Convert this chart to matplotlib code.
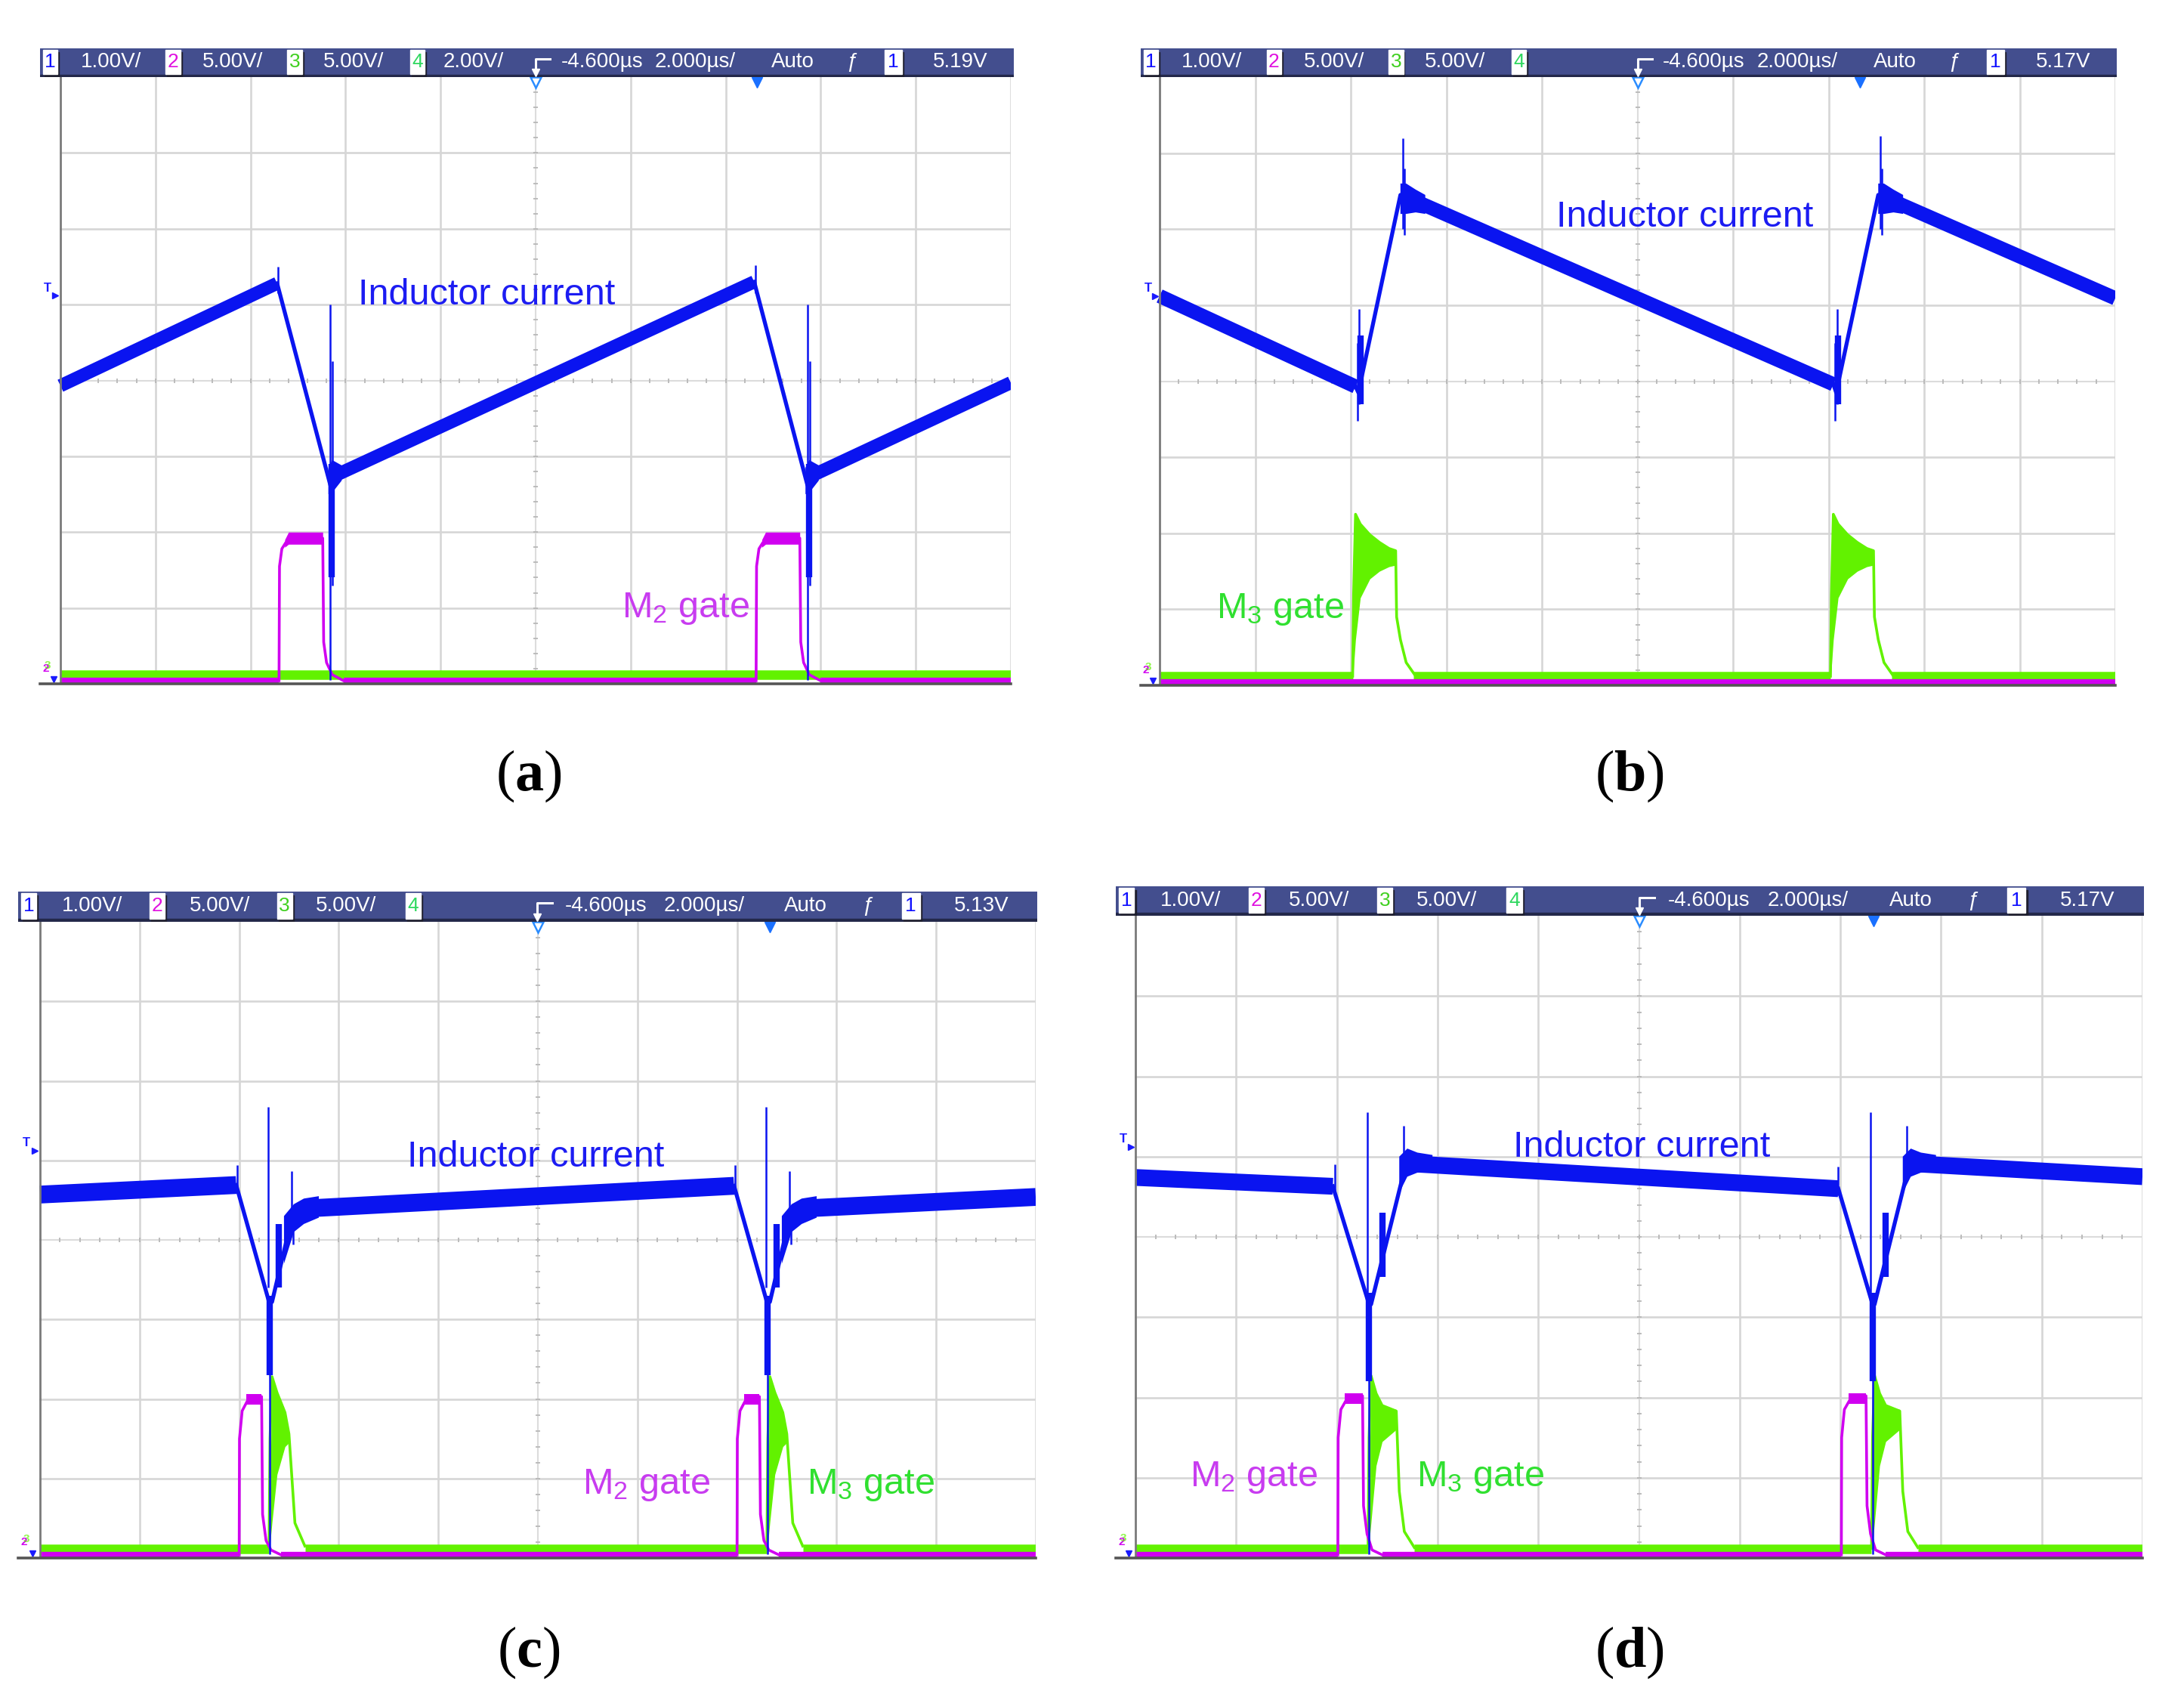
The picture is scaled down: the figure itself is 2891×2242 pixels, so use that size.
import numpy as np
import matplotlib
matplotlib.use('Agg')
import matplotlib.pyplot as plt
from matplotlib.patches import Rectangle

nan = np.nan

plt.rcParams['font.family'] = ['Liberation Sans', 'DejaVu Sans']
plt.rcParams['mathtext.fontset'] = 'custom'
plt.rcParams['mathtext.rm'] = 'Liberation Sans'
plt.rcParams['mathtext.it'] = 'Liberation Sans:italic'
plt.rcParams['mathtext.bf'] = 'Liberation Serif:bold'

# ---- values read off the four scope shots (time / level in divisions) ----
# (a)
a_volts = ['1.00V/', '5.00V/', '5.00V/', '2.00V/']
a_level = '5.19V'
a_band_t = [0, 2.28, nan, 2.88, 7.30, nan, 7.90, 10]
a_band_v = [3.93, 5.28, nan, 2.74, 5.30, nan, 2.74, 3.97]
a_edge_t = [2.28, 2.84, 2.90, nan, 7.30, 7.86, 7.92]
a_edge_v = [5.28, 2.62, 2.74, nan, 5.30, 2.62, 2.74]
a_ring_t = [2.82, 2.86, 2.96, nan, 7.84, 7.88, 7.98]
a_ring_lo = [2.50, 2.52, 2.68, nan, 2.50, 2.52, 2.68]
a_ring_hi = [2.85, 2.95, 2.88, nan, 2.85, 2.95, 2.88]
a_spike_t = [2.29, 2.84, 2.865, 7.31, 7.86, 7.885]
a_spike_lo = [5.15, 0.05, 1.30, 5.15, 0.05, 1.30]
a_spike_hi = [5.50, 5.00, 4.25, 5.52, 5.00, 4.25]
a_blob_t = [2.855, 7.875]
a_blob_lo = [1.40, 1.40]
a_blob_hi = [2.90, 2.90]
a_m2_start = [2.30, 7.32]
a_m2_edge_t = [0, 0.005, 0.03, 0.07, 0.12, 0.46, 0.47, 0.50, 0.56, 0.68]
a_m2_edge_v = [0.04, 1.55, 1.78, 1.86, 1.92, 1.92, 0.55, 0.28, 0.12, 0.04]
a_m2_env_t = [0.06, 0.10, 0.46]
a_m2_env_lo = [1.80, 1.84, 1.84]
a_m2_env_hi = [1.90, 2.00, 2.00]
a_m2_base = [0, 2.30, nan, 2.98, 7.32, nan, 8.00, 10]
a_m3_start = []
a_m3_base = [0, 10]

# (b)
b_volts = ['1.00V/', '5.00V/', '5.00V/', '']
b_level = '5.17V'
b_band_t = [0, 2.05, nan, 2.62, 7.05, nan, 7.62, 10]
b_band_v = [5.12, 3.93, nan, 6.40, 3.96, nan, 6.40, 5.09]
b_edge_t = [2.05, 2.08, 2.52, 2.62, nan, 7.05, 7.08, 7.52, 7.62]
b_edge_v = [3.93, 3.85, 6.45, 6.40, nan, 3.96, 3.85, 6.45, 6.40]
b_ring_t = [2.52, 2.58, 2.68, 2.78, nan, 7.52, 7.58, 7.68, 7.78]
b_ring_lo = [6.20, 6.20, 6.22, 6.20, nan, 6.20, 6.20, 6.22, 6.20]
b_ring_hi = [6.60, 6.60, 6.52, 6.45, nan, 6.60, 6.60, 6.52, 6.45]
b_spike_t = [2.07, 2.09, 2.545, 2.56, 7.07, 7.09, 7.545, 7.56]
b_spike_lo = [3.48, 3.70, 6.00, 5.92, 3.48, 3.70, 6.00, 5.92]
b_spike_hi = [4.50, 4.95, 7.20, 6.80, 4.50, 4.95, 7.22, 6.80]
b_blob_t = [2.10, 7.10]
b_blob_lo = [3.70, 3.70]
b_blob_hi = [4.60, 4.60]
b_m3_start = [2.02, 7.02]
b_m3_edge_t = [0, 0.01, 0.03, 0.08, 0.18, 0.28, 0.38, 0.45, 0.46, 0.50, 0.56, 0.66]
b_m3_edge_v = [0.12, 1.20, 2.25, 2.12, 1.98, 1.88, 1.80, 1.77, 0.90, 0.60, 0.30, 0.12]
b_m3_env_t = [0.005, 0.03, 0.08, 0.18, 0.28, 0.38, 0.45]
b_m3_env_lo = [0.15, 0.60, 1.15, 1.40, 1.50, 1.56, 1.58]
b_m3_env_hi = [0.60, 2.25, 2.12, 1.98, 1.88, 1.80, 1.77]
b_m3_base = [0, 2.02, nan, 2.66, 7.02, nan, 7.66, 10]
b_m2_start = []
b_m2_base = [0, 10]

# (c)
c_volts = ['1.00V/', '5.00V/', '5.00V/', '']
c_level = '5.13V'
c_band_t = [0, 1.97, nan, 2.55, 2.75, 6.97, nan, 7.55, 7.75, 10]
c_band_v = [4.57, 4.69, nan, 4.30, 4.40, 4.68, nan, 4.30, 4.40, 4.54]
c_edge_t = [1.97, 2.30, 2.33, 2.53, 2.55, nan, 6.97, 7.30, 7.33, 7.53, 7.55]
c_edge_v = [4.69, 3.22, 3.22, 4.28, 4.30, nan, 4.68, 3.22, 3.22, 4.28, 4.30]
c_ring_t = [2.45, 2.55, 2.65, 2.80, nan, 7.45, 7.55, 7.65, 7.80]
c_ring_lo = [3.70, 4.10, 4.20, 4.28, nan, 3.70, 4.10, 4.20, 4.28]
c_ring_hi = [4.30, 4.45, 4.52, 4.55, nan, 4.30, 4.45, 4.52, 4.55]
c_spike_t = [1.98, 2.295, 2.31, 2.53, 2.54, 6.98, 7.295, 7.31, 7.53, 7.54]
c_spike_lo = [4.60, 3.40, 0.05, 4.10, 3.94, 4.60, 3.40, 0.05, 4.10, 3.94]
c_spike_hi = [4.94, 5.67, 3.30, 4.86, 4.40, 4.94, 5.67, 3.30, 4.86, 4.40]
c_blob_t = [2.31, 2.40, 7.31, 7.40]
c_blob_lo = [2.30, 3.40, 2.30, 3.40]
c_blob_hi = [3.30, 4.20, 3.30, 4.20]
c_m2_start = [2.00, 7.00]
c_m2_edge_t = [0, 0.003, 0.03, 0.08, 0.225, 0.235, 0.27, 0.32, 0.42]
c_m2_edge_v = [0.04, 1.50, 1.85, 1.97, 2.03, 0.55, 0.22, 0.10, 0.04]
c_m2_env_t = [0.07, 0.225]
c_m2_env_lo = [1.93, 1.93]
c_m2_env_hi = [2.06, 2.06]
c_m2_base = [0, 2.00, nan, 2.42, 7.00, nan, 7.42, 10]
c_m3_start = [2.30, 7.30]
c_m3_edge_t = [0, 0.01, 0.03, 0.08, 0.16, 0.20, 0.26, 0.36]
c_m3_edge_v = [0.12, 1.50, 2.28, 2.08, 1.83, 1.56, 0.44, 0.15]
c_m3_env_t = [0.005, 0.03, 0.08, 0.16, 0.20]
c_m3_env_lo = [0.12, 0.45, 1.05, 1.40, 1.45]
c_m3_env_hi = [0.50, 2.28, 2.08, 1.83, 1.56]
c_m3_base = [0, 2.30, nan, 2.66, 7.30, nan, 7.66, 10]

# (d)
d_volts = ['1.00V/', '5.00V/', '5.00V/', '']
d_level = '5.17V'
d_band_t = [0, 1.96, nan, 2.75, 6.98, nan, 7.75, 10]
d_band_v = [4.74, 4.63, nan, 4.91, 4.60, nan, 4.91, 4.75]
d_edge_t = [1.96, 2.32, 2.34, 2.68, 2.75, nan, 6.98, 7.32, 7.34, 7.68, 7.75]
d_edge_v = [4.63, 3.16, 3.16, 4.88, 4.91, nan, 4.60, 3.16, 3.16, 4.88, 4.91]
d_ring_t = [2.62, 2.70, 2.80, 2.95, nan, 7.62, 7.70, 7.80, 7.95]
d_ring_lo = [4.55, 4.75, 4.80, 4.82, nan, 4.55, 4.75, 4.80, 4.82]
d_ring_hi = [5.00, 5.10, 5.05, 5.02, nan, 5.00, 5.10, 5.05, 5.02]
d_spike_t = [1.98, 2.30, 2.32, 2.66, 6.98, 7.30, 7.32, 7.66]
d_spike_lo = [4.55, 3.30, 0.05, 4.70, 4.52, 3.30, 0.05, 4.70]
d_spike_hi = [4.90, 5.55, 3.20, 5.38, 4.88, 5.55, 3.20, 5.38]
d_blob_t = [2.32, 2.45, 7.32, 7.45]
d_blob_lo = [2.20, 3.50, 2.20, 3.50]
d_blob_hi = [3.30, 4.30, 3.30, 4.30]
d_m2_start = [2.01, 7.01]
d_m2_edge_t = [0, 0.003, 0.03, 0.08, 0.245, 0.255, 0.29, 0.34, 0.44]
d_m2_edge_v = [0.04, 1.50, 1.85, 1.96, 2.02, 0.65, 0.30, 0.10, 0.04]
d_m2_env_t = [0.07, 0.245]
d_m2_env_lo = [1.92, 1.92]
d_m2_env_hi = [2.05, 2.05]
d_m2_base = [0, 2.01, nan, 2.45, 7.01, nan, 7.45, 10]
d_m3_start = [2.31, 7.31]
d_m3_edge_t = [0, 0.01, 0.03, 0.08, 0.14, 0.28, 0.31, 0.36, 0.46]
d_m3_edge_v = [0.12, 1.50, 2.27, 2.05, 1.90, 1.83, 0.83, 0.33, 0.13]
d_m3_env_t = [0.005, 0.03, 0.08, 0.14, 0.28]
d_m3_env_lo = [0.12, 0.45, 1.15, 1.45, 1.60]
d_m3_env_hi = [0.50, 2.27, 2.05, 1.90, 1.85]
d_m3_base = [0, 2.31, nan, 2.77, 7.31, nan, 7.77, 10]

# trace labels: (x, baseline y, text, which colour)
a_labels = [(3.13, 5.00, 'Inductor current', 'il'), (5.91, 0.88, 'M$_2$ gate', 'm2')]
b_labels = [(4.15, 6.03, 'Inductor current', 'il'), (0.59, 0.88, 'M$_3$ gate', 'm3')]
c_labels = [(3.69, 4.92, 'Inductor current', 'il'), (5.45, 0.81, 'M$_2$ gate', 'm2'),
            (7.70, 0.81, 'M$_3$ gate', 'm3')]
d_labels = [(3.75, 5.00, 'Inductor current', 'il'), (0.54, 0.89, 'M$_2$ gate', 'm2'),
            (2.79, 0.89, 'M$_3$ gate', 'm3')]

delay_txt = '-4.600µs'
scale_txt = '2.000µs/'
mode_txt = 'Auto'
panel_names = ['a', 'b', 'c', 'd']

# ---- colours / layout ----
BLUE = '#0a14f0'
MAG = '#d000f0'
GRN = '#62f200'
TXT = {'il': '#1c1cf2', 'm2': '#c83cf0', 'm3': '#30e030'}
HDR_BG = '#434e8e'
GRID = '#d6d6d6'
CH_COL = ['#1010ff', '#e010e0', '#40d020', '#30d860']

W, H = 2891, 2242
fig = plt.figure(figsize=(W / 100, H / 100), dpi=100)
fig.patch.set_facecolor('white')


def rect(l, t, r, b):
    return [l / W, 1 - b / H, (r - l) / W, (b - t) / H]


# screen left, screen right, header top, header bottom, grid left, grid right, grid bottom
frames = [(53, 1342, 64, 102, 80, 1338, 905),
          (1510, 2802, 64, 102, 1535, 2800, 907),
          (24, 1373, 1180, 1220, 53, 1371, 2062),
          (1477, 2838, 1173, 1212, 1503, 2836, 2062)]
label_pos = [(700, 1027), (2157, 1027), (700, 2187), (2157, 2187)]

box_x = [0.003, 0.129, 0.254, 0.380]
box_w = 0.015
val_x = [0.073, 0.198, 0.322, 0.445]


def draw_header(fr, volts, level):
    sl, sr, ht, hb = fr[:4]
    hx = fig.add_axes(rect(sl, ht, sr, hb))
    hx.set_xlim(0, 1)
    hx.set_ylim(0, 1)
    hx.axis('off')
    hx.add_patch(Rectangle((0, 0), 1, 1, color=HDR_BG))
    hx.add_patch(Rectangle((0, 0), 1, 0.09, color='#23284a'))
    fs = 20
    for i, bx in enumerate(box_x):
        hx.add_patch(Rectangle((bx + 0.0015, 0.02), box_w, 0.86, color='#1e1e2e'))
        hx.add_patch(Rectangle((bx, 0.1), box_w, 0.84, color='white'))
        hx.text(bx + box_w / 2, 0.52, str(i + 1), color=CH_COL[i], ha='center', va='center', fontsize=fs - 1)
        if volts[i]:
            hx.text(val_x[i], 0.52, volts[i], color='white', ha='center', va='center', fontsize=fs)
    # trigger icon
    hx.plot([0.524, 0.509, 0.509], [0.62, 0.62, 0.22], color='white', lw=2.2)
    hx.plot([0.509], [0.16], marker='v', color='white', ms=7)
    hx.text(0.577, 0.52, delay_txt, color='white', ha='center', va='center', fontsize=fs)
    hx.text(0.673, 0.52, scale_txt, color='white', ha='center', va='center', fontsize=fs)
    hx.text(0.773, 0.52, mode_txt, color='white', ha='center', va='center', fontsize=fs)
    hx.text(0.833, 0.52, 'ƒ', color='white', ha='center', va='center', fontsize=fs, style='italic')
    hx.add_patch(Rectangle((0.8685, 0.02), 0.018, 0.86, color='#1e1e2e'))
    hx.add_patch(Rectangle((0.867, 0.1), 0.018, 0.84, color='white'))
    hx.text(0.876, 0.52, '1', color=CH_COL[0], ha='center', va='center', fontsize=fs - 1)
    hx.text(0.945, 0.52, level, color='white', ha='center', va='center', fontsize=fs)


def draw_gate(ax, base, level, starts, edge_t, edge_v, env_t, env_lo, env_hi, color, base_lw, z):
    bt = np.array(base, float)
    ax.plot(bt, np.where(np.isnan(bt), nan, level), color=color, lw=base_lw,
            solid_capstyle='butt', zorder=z)
    for s in starts:
        ax.plot(s + np.array(edge_t), edge_v, color=color, lw=2.6, zorder=z)
        ax.fill_between(s + np.array(env_t), env_lo, env_hi, color=color, lw=0, zorder=z)


def draw_screen(fr, band, edge, ring, spikes, blobs, m2, m3, labels, band_lw):
    sl, sr, ht, hb, gl, gr, gb = fr
    m = (gl - sl) / ((gr - gl) / 10)
    ax = fig.add_axes(rect(sl, hb, gr, gb))
    ax.set_xlim(-m, 10)
    ax.set_ylim(0, 8)
    ax.axis('off')

    # graticule
    for i in range(1, 11):
        if i != 5:
            ax.plot([i, i], [0, 8], color=GRID, lw=1.9, zorder=1)
    for j in range(1, 8):
        if j != 4:
            ax.plot([0, 10], [j, j], color=GRID, lw=1.9, zorder=1)
    ax.plot([5, 5], [0, 8], color='#dcdcdc', lw=1.5, zorder=1)
    ax.plot([0, 10], [4, 4], color='#dcdcdc', lw=1.5, zorder=1)
    tk = np.arange(0.2, 10, 0.2)
    ax.plot(tk, np.full(tk.size, 4), ls='none', marker='|', ms=5, mew=1.3, color='#b8b8b8', zorder=1)
    tk = np.arange(0.2, 8, 0.2)
    ax.plot(np.full(tk.size, 5), tk, ls='none', marker='_', ms=5, mew=1.3, color='#b8b8b8', zorder=1)
    ax.plot([0, 0], [0, 8], color='#7a7a7a', lw=2.0, zorder=6)

    # gate traces
    draw_gate(ax, m3[0], 0.115, *m3[1:], color=GRN, base_lw=9, z=3)
    draw_gate(ax, m2[0], 0.04, *m2[1:], color=MAG, base_lw=6, z=4)

    # inductor current
    ax.plot(band[0], band[1], color=BLUE, lw=band_lw, solid_capstyle='butt', zorder=5)
    ax.fill_between(ring[0], ring[1], ring[2], color=BLUE, lw=0, zorder=5)
    ax.plot(edge[0], edge[1], color=BLUE, lw=3.8, zorder=5)
    ax.vlines(spikes[0], spikes[1], spikes[2], color=BLUE, lw=1.8, zorder=5)
    ax.vlines(blobs[0], blobs[1], blobs[2], color=BLUE, lw=6, zorder=5)

    ax.plot([-m, 10], [0, 0], color='#555555', lw=2.6, zorder=7, clip_on=False)

    # markers
    ax.plot([5], [7.93], marker='v', ms=10, mfc='white', mec='#2a8cff', mew=1.8, zorder=8)
    ax.plot([7.33], [7.93], marker='v', ms=10, color='#1a70ff', zorder=8)
    ax.text(-m * 0.62, 5.22, 'T', color='#1a1aff', fontsize=12, fontweight='bold', ha='center', va='center')
    ax.plot([-m * 0.25], [5.12], marker='>', ms=6, color='#1a1aff')
    ax.text(-m * 0.72, 0.2, '2', color=MAG, fontsize=11, fontweight='bold', ha='center', va='center')
    ax.text(-m * 0.62, 0.24, '3', color=GRN, fontsize=11, fontweight='bold', ha='center', va='center', alpha=0.7)
    ax.plot([-m * 0.35], [0.06], marker='v', ms=6, color='#1a1aff', clip_on=False)

    for x, y, s, c in labels:
        ax.text(x, y, s, color=TXT[c], fontsize=35, ha='left', va='baseline', zorder=9)


panels = [
    (a_volts, a_level, (a_band_t, a_band_v), (a_edge_t, a_edge_v), (a_ring_t, a_ring_lo, a_ring_hi),
     (a_spike_t, a_spike_lo, a_spike_hi), (a_blob_t, a_blob_lo, a_blob_hi),
     (a_m2_base, a_m2_start, a_m2_edge_t, a_m2_edge_v, a_m2_env_t, a_m2_env_lo, a_m2_env_hi),
     (a_m3_base, a_m3_start, [], [], [], [], []), a_labels, 12.5),
    (b_volts, b_level, (b_band_t, b_band_v), (b_edge_t, b_edge_v), (b_ring_t, b_ring_lo, b_ring_hi),
     (b_spike_t, b_spike_lo, b_spike_hi), (b_blob_t, b_blob_lo, b_blob_hi),
     (b_m2_base, b_m2_start, [], [], [], [], []),
     (b_m3_base, b_m3_start, b_m3_edge_t, b_m3_edge_v, b_m3_env_t, b_m3_env_lo, b_m3_env_hi), b_labels, 13.5),
    (c_volts, c_level, (c_band_t, c_band_v), (c_edge_t, c_edge_v), (c_ring_t, c_ring_lo, c_ring_hi),
     (c_spike_t, c_spike_lo, c_spike_hi), (c_blob_t, c_blob_lo, c_blob_hi),
     (c_m2_base, c_m2_start, c_m2_edge_t, c_m2_edge_v, c_m2_env_t, c_m2_env_lo, c_m2_env_hi),
     (c_m3_base, c_m3_start, c_m3_edge_t, c_m3_edge_v, c_m3_env_t, c_m3_env_lo, c_m3_env_hi), c_labels, 17),
    (d_volts, d_level, (d_band_t, d_band_v), (d_edge_t, d_edge_v), (d_ring_t, d_ring_lo, d_ring_hi),
     (d_spike_t, d_spike_lo, d_spike_hi), (d_blob_t, d_blob_lo, d_blob_hi),
     (d_m2_base, d_m2_start, d_m2_edge_t, d_m2_edge_v, d_m2_env_t, d_m2_env_lo, d_m2_env_hi),
     (d_m3_base, d_m3_start, d_m3_edge_t, d_m3_edge_v, d_m3_env_t, d_m3_env_lo, d_m3_env_hi), d_labels, 16),
]

for k, p in enumerate(panels):
    volts, level, band, edge, ring, spikes, blobs, m2, m3, labels, blw = p
    draw_header(frames[k], volts, level)
    draw_screen(frames[k], band, edge, ring, spikes, blobs, m2, m3, labels, blw)
    lx, ly = label_pos[k]
    fig.text(lx / W, 1 - ly / H, '($\\mathbf{%s}$)' % panel_names[k], family='Liberation Serif',
             fontsize=55, ha='center', va='center')

fig.savefig('out.png', dpi=100, facecolor='white')
